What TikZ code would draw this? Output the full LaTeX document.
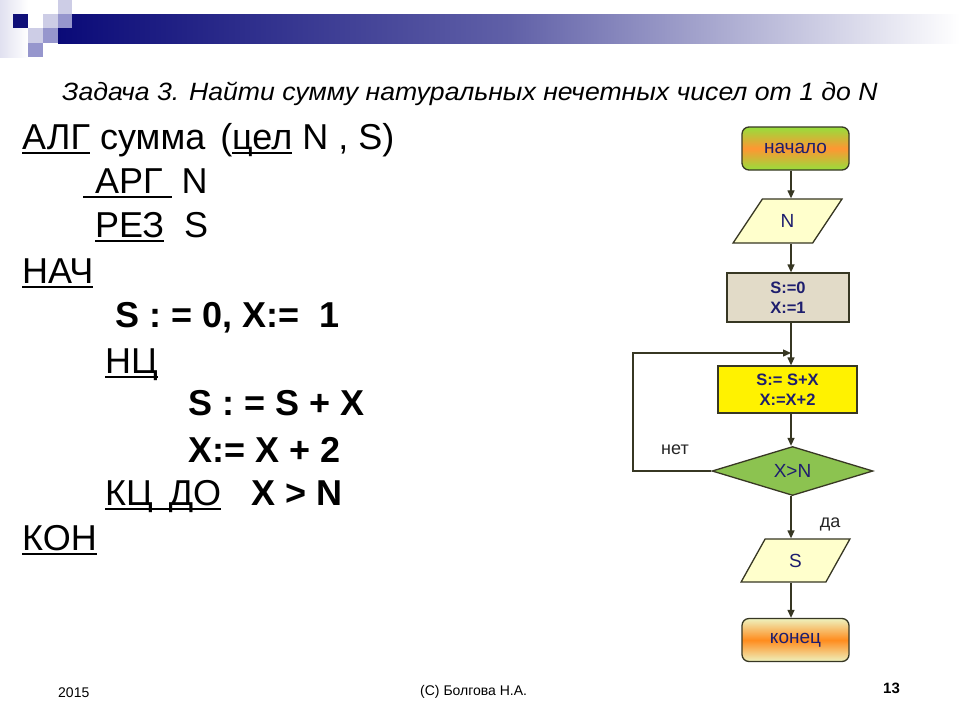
\documentclass[tikz,border=0pt]{standalone}
\usepackage{fontspec}
\setmainfont{Liberation Sans}
\usetikzlibrary{shapes.geometric,arrows.meta}
\definecolor{navyA}{RGB}{10,10,120}
\definecolor{sqdark}{RGB}{15,15,120}
\definecolor{sqmid}{RGB}{150,150,205}
\definecolor{sqlight}{RGB}{205,205,230}
\definecolor{fctext}{RGB}{30,30,110}
\definecolor{fcline}{RGB}{55,55,35}
\definecolor{boxbeige}{RGB}{226,219,200}
\definecolor{paral}{RGB}{255,255,204}
\definecolor{diag}{RGB}{140,195,80}
\definecolor{startg}{RGB}{150,222,60}
\definecolor{starto}{RGB}{255,150,50}
\definecolor{endy}{RGB}{238,242,190}
\definecolor{endo}{RGB}{255,140,30}
\newcommand\myul[1]{\setbox0=\hbox{#1}\rlap{\rule[-4.5pt]{\wd0}{2pt}}\box0\relax}
\tikzset{
  x=1pt, y=-1pt,
  codeline/.style={anchor=base west, inner sep=0pt, font=\fontsize{36}{40}\selectfont},
  fcbase/.style={draw=fcline, line width=1.3pt, text=fctext, inner sep=0pt},
  roundbox/.style={fcbase, rounded corners=7pt, minimum width=107pt, minimum height=43pt, font=\fontsize{19}{22}\selectfont},
  procbox/.style={fcbase, minimum width=122pt, minimum height=49pt, font=\fontsize{16.5}{20}\selectfont\bfseries, align=center},
  iobox/.style={fcbase, fill=paral, trapezium, trapezium stretches=true, minimum width=109pt, minimum height=44pt, font=\fontsize{19}{22}\selectfont},
  decbox/.style={fcbase, fill=diag, diamond, aspect=3.3, minimum width=161pt, minimum height=49pt, font=\fontsize{19}{22}\selectfont},
  arr/.style={draw=fcline, line width=1.3pt, -{Triangle[length=8pt,width=7pt]}},
  flowlabel/.style={inner sep=0pt, font=\fontsize{18}{22}\selectfont, text=black!85},
  foot/.style={inner sep=0pt, font=\fontsize{14}{16}\selectfont}
}
\begin{document}
\begin{tikzpicture}
\useasboundingbox[fill=white] (0,0) rectangle (960,720);
% header decoration
\shade[left color=sqlight!60, right color=white] (0,0) rectangle (28,57);
\shade[left color=navyA, right color=white, middle color=navyA!65] (58,14) rectangle (960,43);
\fill[sqdark] (13,14) rectangle (28,28);
\fill[sqlight] (43,14) rectangle (58,28);
\fill[sqlight] (58,0) rectangle (72,14);
\fill[sqmid] (58,14) rectangle (72,28);
\fill[sqmid] (43,28) rectangle (58,43);
\fill[sqlight] (28,28) rectangle (43,43);
\fill[sqmid] (28,43) rectangle (43,57);
% title
\node[anchor=base west, inner sep=0pt, font=\fontsize{25}{28}\selectfont\itshape] (title) at (62,100)
  {\scalebox{1.065}[1]{Задача 3. Найти сумму натуральных нечетных чисел от 1 до N}};
% algorithm text
\node[codeline] (l1) at (22,149) {\myul{АЛГ} сумма\hspace{5pt} (\myul{цел} N , S)};
\node[codeline] (l2) at (83,193) {\myul{\hspace*{12pt}АРГ\hspace*{9pt}} N};
\node[codeline] (l3) at (95,237) {\myul{РЕЗ}\ \ S};
\node[codeline] (l4) at (22,283) {\myul{НАЧ}};
\node[codeline, font=\fontsize{36}{40}\selectfont\bfseries] (l5) at (115,327) {S : = 0, X:=\ \ 1};
\node[codeline] (l6) at (105,373) {\myul{НЦ}};
\node[codeline, font=\fontsize{36}{40}\selectfont\bfseries] (l7) at (188,415) {S : = S + X};
\node[codeline, font=\fontsize{36}{40}\selectfont\bfseries] (l8) at (188,462) {X:= X + 2};
\node[codeline] (l9) at (105,505) {\myul{КЦ\hspace{6pt} ДО}\hspace{30pt}\textbf{X > N}};
\node[codeline] (l10) at (22,550) {\myul{КОН}};
% flowchart
\coordinate (col) at (791,0);
\node[roundbox, top color=startg, bottom color=startg, middle color=starto] (start) at (795.5,148.5) {начало};
\node[iobox, trapezium left angle=58.5, trapezium right angle=121.5] (inN) at (787.5,221) {N};
\node[procbox, fill=boxbeige] (init) at (788,297.5) {S:=0\\X:=1};
\node[procbox, fill=yellow, minimum width=139pt, minimum height=47pt] (body) at (787.5,389.5) {S:= S+X\\X:=X+2};
\node[decbox] (cond) at (792.5,471) {X>N};
\node[iobox, trapezium left angle=69.6, trapezium right angle=110.4, minimum height=43pt] (outS) at (795.5,560.5) {S};
\node[roundbox, top color=endy, bottom color=endy, middle color=endo] (stop) at (795.5,640) {конец};
\coordinate (loopx) at (633,0);
\coordinate (join) at (791,353);
\draw[arr] (start.south -| col) -- (inN.north -| col);
\draw[arr] (inN.south -| col) -- (init.north -| col);
\draw[arr] (init.south -| col) -- (body.north -| col);
\draw[arr] (body.south -| col) -- (cond.north -| col);
\draw[arr] (cond.south -| col) -- (outS.north -| col);
\draw[arr] (outS.south -| col) -- (stop.north -| col);
\draw[arr] (cond.west) -- (cond.west -| loopx) |- (join);
\node[flowlabel] (no) at (675,450) {нет};
\node[flowlabel] (yes) at (830,524) {да};
% footer
\node[foot, anchor=base west] (year) at (58,697) {2015};
\node[foot, anchor=base west] (author) at (420,695) {(С) Болгова Н.А.};
\node[foot, anchor=base west, font=\fontsize{15}{17}\selectfont\bfseries] (page) at (883,693) {13};
\end{tikzpicture}
\end{document}
